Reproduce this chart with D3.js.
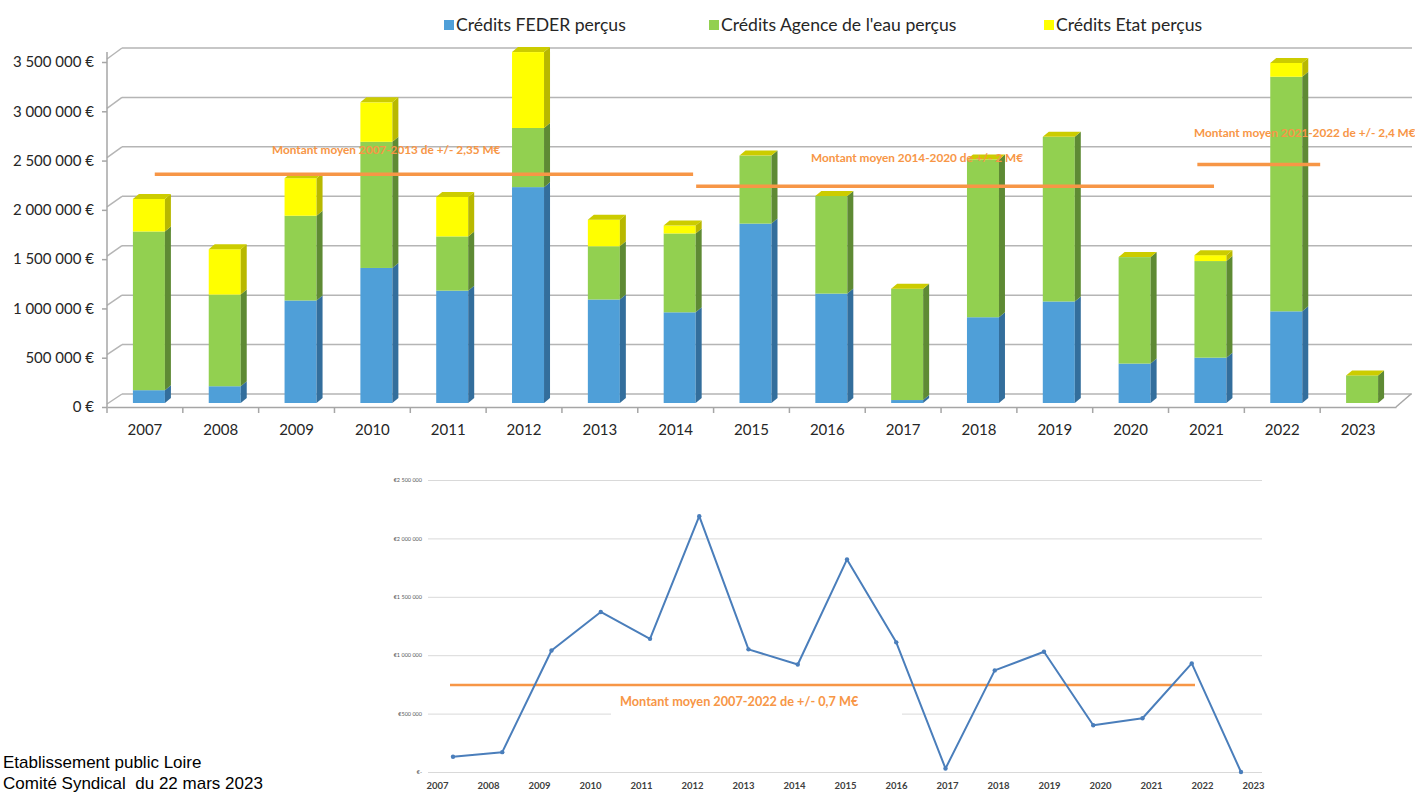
<!DOCTYPE html>
<html>
<head>
<meta charset="utf-8">
<script src="https://cdn.jsdelivr.net/npm/d3@7"></script>
<style>
  body { margin: 0; background: #fff; }
  svg { display: block; }
</style>
</head>
<body>
<div id="chart-area"></div>
<script>
// data (euros)
var years = ["2007","2008","2009","2010","2011","2012","2013","2014","2015","2016","2017","2018","2019","2020","2021","2022","2023"];
var feder  = [130000,170000,1040000,1370000,1140000,2190000,1050000,920000,1820000,1110000,30000,870000,1030000,400000,460000,930000,0];
var agence = [1610000,930000,860000,1280000,550000,600000,540000,800000,690000,990000,1130000,1600000,1670000,1080000,980000,2380000,280000];
var etat   = [330000,460000,380000,400000,400000,770000,270000,80000,0,0,0,0,0,0,60000,140000,0];
var seriesNames = ["Crédits FEDER perçus", "Crédits Agence de l'eau perçus", "Crédits Etat perçus"];
var yTicks = [0,500000,1000000,1500000,2000000,2500000,3000000,3500000];
// periods
var avgFrom   = [2007.13, 2014.27, 2020.88];
var avgTo     = [2014.23, 2021.1, 2022.5];
var avgValue  = [2320000, 2200000, 2420000];
var avgLabels = ["Montant moyen 2007-2013 de +/- 2,35 M€", "Montant moyen 2014-2020 de +/- 2 M€", "Montant moyen 2021-2022 de +/- 2,4 M€"];
var lineTicks = [0,500000,1000000,1500000,2000000,2500000];
var lineAvg = 745000;
var lineAvgLabel = "Montant moyen 2007-2022 de +/- 0,7 M€";

var W = 1415, H = 792;
var svg = d3.select("#chart-area").append("svg").attr("width", W).attr("height", H);

var font = "Lato, 'Open Sans', sans-serif";
var orange = "#f79646";
var colors = [
  { front: "#4f9fd8", side: "#336e9c", top: "#3f86bb" },
  { front: "#92d050", side: "#5e8a34", top: "#79b040" },
  { front: "#ffff00", side: "#b8b800", top: "#cccc00" }
];

// ---------- top chart: 3D stacked columns ----------
var depthX = 15;
var x = d3.scaleBand().domain(years).range([107, 1396]);
var xYear = d3.scaleLinear().domain([2007, 2023]).range([x("2007") + x.bandwidth() / 2, x("2023") + x.bandwidth() / 2]);
var yFront = d3.scaleLinear().domain([0, 3500000]).range([407, 62]);
var yBack = d3.scaleLinear().domain([0, 3500000]).range([394, 48]);
var yBar = d3.scaleLinear().domain([0, 3500000]).range([403, 58]);

var gTop = svg.append("g");

// back wall grid lines + side wall diagonals
yTicks.forEach(function(v) {
  gTop.append("line")
    .attr("x1", 107 + depthX).attr("x2", 1412)
    .attr("y1", yBack(v)).attr("y2", yBack(v))
    .attr("stroke", "#b5b5b5").attr("stroke-width", 1.5);
  gTop.append("line")
    .attr("x1", 107).attr("x2", 107 + depthX)
    .attr("y1", yFront(v) - 3).attr("y2", yBack(v))
    .attr("stroke", "#b5b5b5").attr("stroke-width", 1.5);
});

// y axis
var fmt = d3.formatLocale({ decimal: ",", thousands: " ", grouping: [3], currency: ["", " €"] }).format("$,.0f");
var yAxis = d3.axisLeft(yFront).tickValues(yTicks).tickSize(5).tickPadding(8).tickFormat(fmt);
var yAxisG = gTop.append("g").attr("transform", "translate(107,0)").call(yAxis);
yAxisG.select(".domain").attr("stroke", "#a6a6a6").attr("stroke-width", 1.5).attr("d", "M-0,52V407");
yAxisG.selectAll(".tick line").attr("stroke", "#a6a6a6").attr("stroke-width", 1.5);
yAxisG.selectAll("text").attr("font-family", font).attr("font-size", "15px").attr("fill", "#262626");

// x axis
var xAxis = d3.axisBottom(x).tickSize(0).tickPadding(17);
var xAxisG = gTop.append("g").attr("transform", "translate(0,407)").call(xAxis);
xAxisG.select(".domain").attr("stroke", "#a6a6a6").attr("stroke-width", 1.5);
xAxisG.selectAll("text").attr("font-family", font).attr("font-size", "15px").attr("fill", "#262626");
years.forEach(function(yr) {
  gTop.append("line")
    .attr("x1", x(yr)).attr("x2", x(yr)).attr("y1", 407).attr("y2", 413)
    .attr("stroke", "#a6a6a6").attr("stroke-width", 1.5);
});
gTop.append("line").attr("x1", 1396).attr("x2", 1396 + depthX).attr("y1", 407).attr("y2", 394)
  .attr("stroke", "#a6a6a6").attr("stroke-width", 1.5);

// bars
var barW = 32, bdx = 6, bdy = -5;
years.forEach(function(yr, i) {
  var vals = [feder[i], agence[i], etat[i]];
  var x0 = x(yr) + (x.bandwidth() - barW) / 2 + 4;
  var base = 0;
  var g = gTop.append("g");
  vals.forEach(function(v, s) {
    var yb = yBar(base), yt = yBar(base + v);
    if (v > 0) {
      g.append("rect").attr("x", x0).attr("y", yt).attr("width", barW).attr("height", yb - yt)
        .attr("fill", colors[s].front);
      g.append("polygon")
        .attr("points", [[x0 + barW, yb], [x0 + barW + bdx, yb + bdy], [x0 + barW + bdx, yt + bdy], [x0 + barW, yt]].join(" "))
        .attr("fill", colors[s].side);
    }
    base += v;
  });
  var yt = yBar(base);
  g.append("polygon")
    .attr("points", [[x0, yt], [x0 + bdx, yt + bdy], [x0 + barW + bdx, yt + bdy], [x0 + barW, yt]].join(" "))
    .attr("fill", colors[2].top);
});

// average lines
avgValue.forEach(function(v, i) {
  gTop.append("line")
    .attr("x1", xYear(avgFrom[i])).attr("x2", xYear(avgTo[i]))
    .attr("y1", yBar(v)).attr("y2", yBar(v))
    .attr("stroke", orange).attr("stroke-width", 3.5);
});
var labelPos = [[272, 154], [811, 162], [1194, 137]];
avgLabels.forEach(function(t, i) {
  gTop.append("text").attr("x", labelPos[i][0]).attr("y", labelPos[i][1])
    .attr("font-family", font).attr("font-weight", "bold").attr("font-size", "11.8px")
    .attr("fill", orange).text(t);
});

// legend
var legX = [444, 709, 1044];
seriesNames.forEach(function(n, i) {
  svg.append("rect").attr("x", legX[i]).attr("y", 20).attr("width", 10).attr("height", 10).attr("fill", colors[i].front);
  svg.append("text").attr("x", legX[i] + 12).attr("y", 31)
    .attr("font-family", font).attr("font-size", "17.6px").attr("fill", "#262626").text(n);
});

// ---------- bottom chart: FEDER line ----------
var bot = svg.append("g");
var yL = d3.scaleLinear().domain([0, 2500000]).range([772, 480]);
var xL = d3.scalePoint().domain(years).range([453, 1241]);
var xLab = d3.scalePoint().domain(years).range([437, 1253]);

var fmtL = d3.formatLocale({ decimal: ",", thousands: " ", grouping: [3], currency: ["€", ""] }).format("$,.0f");
var yAxisL = d3.axisLeft(yL).tickValues(lineTicks).tickSize(-(1262 - 428)).tickPadding(6)
  .tickFormat(function(d) { return d === 0 ? "€-" : fmtL(d); });
var yLG = bot.append("g").attr("transform", "translate(428,0)").call(yAxisL);
yLG.select(".domain").remove();
yLG.selectAll(".tick line").attr("stroke", "#d9d9d9").attr("stroke-width", 1);
yLG.selectAll("text").attr("font-family", font).attr("font-size", "5.5px").attr("fill", "#595959");

var xAxisL = d3.axisBottom(xLab).tickSize(0).tickPadding(8);
var xLG = bot.append("g").attr("transform", "translate(0,774)").call(xAxisL);
xLG.select(".domain").remove();
xLG.selectAll("text").attr("font-family", font).attr("font-weight", "bold").attr("font-size", "9.5px").attr("fill", "#404040");

// average line + label box
bot.append("line").attr("x1", 450).attr("x2", 1195).attr("y1", yL(lineAvg)).attr("y2", yL(lineAvg))
  .attr("stroke", orange).attr("stroke-width", 2.5);
bot.append("rect").attr("x", 611).attr("y", 688).attr("width", 291).attr("height", 28).attr("fill", "#fff");
bot.append("text").attr("x", 620).attr("y", 706)
  .attr("font-family", font).attr("font-weight", "bold").attr("font-size", "12.7px")
  .attr("fill", orange).text(lineAvgLabel);

var line = d3.line().x(function(d, i) { return xL(years[i]); }).y(function(d) { return yL(d); });
bot.append("path").datum(feder).attr("d", line)
  .attr("fill", "none").attr("stroke", "#4a7ebb").attr("stroke-width", 2).attr("stroke-linejoin", "round");
bot.selectAll("circle.pt").data(feder).enter().append("circle")
  .attr("class", "pt")
  .attr("cx", function(d, i) { return xL(years[i]); })
  .attr("cy", function(d) { return yL(d); })
  .attr("r", 2.2).attr("fill", "#4a7ebb");

// footer
svg.append("text").attr("x", 3).attr("y", 768)
  .attr("font-family", "'Liberation Sans', Arial, sans-serif").attr("font-size", "17px").attr("fill", "#000")
  .text("Etablissement public Loire");
svg.append("text").attr("x", 3).attr("y", 789).attr("xml:space", "preserve")
  .attr("font-family", "'Liberation Sans', Arial, sans-serif").attr("font-size", "17px").attr("fill", "#000")
  .text("Comité Syndical  du 22 mars 2023");
</script>
</body>
</html>
